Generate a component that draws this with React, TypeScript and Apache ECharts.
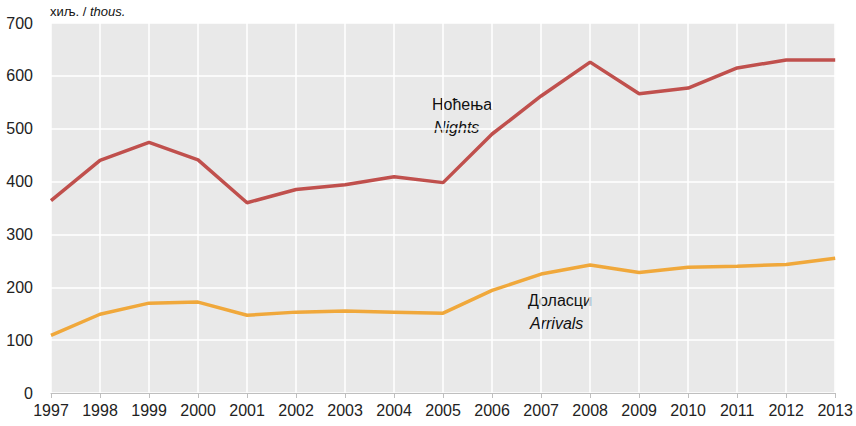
import React, { useEffect, useRef } from "react";
import * as echarts from "echarts";

const years = ["1997","1998","1999","2000","2001","2002","2003","2004","2005","2006","2007","2008","2009","2010","2011","2012","2013"];
const nights = [364, 440, 474, 441, 360, 385, 394, 409, 398, 490, 562, 626, 566, 577, 615, 630, 630];
const arrivals = [109, 149, 170, 172, 147, 153, 155, 153, 151, 194, 225, 242, 228, 238, 240, 243, 255];

const FONT = "'Liberation Sans Narrow', 'Arial Narrow', 'Liberation Sans', sans-serif";

export default function App() {
  const ref = useRef<HTMLDivElement>(null);
  useEffect(() => {
    const chart = echarts.init(ref.current!, null, { renderer: "svg" });
    chart.setOption({
      animation: false,
      backgroundColor: "#ffffff",
      grid: { left: 51, right: 18, top: 23, bottom: 33, backgroundColor: "#e9e9e9", show: true, borderWidth: 0 },
      xAxis: {
        type: "category",
        data: years,
        boundaryGap: false,
        axisLine: { show: true, lineStyle: { color: "#bfbfbf", width: 1 } },
        axisTick: { show: true, length: 5, lineStyle: { color: "#bfbfbf" } },
        axisLabel: { color: "#222", fontFamily: FONT, fontSize: 16, margin: 9, interval: 0 },
        splitLine: { show: true, lineStyle: { color: "#ffffff", width: 1.5 } },
      },
      yAxis: {
        type: "value",
        min: 0,
        max: 700,
        interval: 100,
        axisLine: { show: false },
        axisTick: { show: false },
        axisLabel: { color: "#222", fontFamily: FONT, fontSize: 16, margin: 18 },
        splitLine: { show: true, lineStyle: { color: "#ffffff", width: 1.5 } },
      },
      series: [
        { name: "Ноћења", type: "line", data: nights, symbol: "none", lineStyle: { color: "#c0504d", width: 3.5 }, z: 3 },
        { name: "Доласци", type: "line", data: arrivals, symbol: "none", lineStyle: { color: "#f0a83b", width: 3.5 }, z: 3 },
      ],
      graphic: [
        { type: "text", left: 50, top: 5, style: { rich: { a: { fontFamily: FONT, fontSize: 13, fill: "#111" }, b: { fontFamily: FONT, fontSize: 13, fontStyle: "italic", fill: "#111" } }, text: "{a|хиљ. / }{b|thous.}" } },
        { type: "text", left: 432, top: 96, style: { text: "Ноћења", fontFamily: FONT, fontSize: 16, fill: "#111" } },
        { type: "text", left: 434, top: 119, style: { text: "Nights", fontFamily: FONT, fontSize: 16, fontStyle: "italic", fill: "#111" } },
        { type: "text", left: 528, top: 292, style: { text: "Доласци", fontFamily: FONT, fontSize: 16, fill: "#111" } },
        { type: "text", left: 530, top: 315, style: { text: "Arrivals", fontFamily: FONT, fontSize: 16, fontStyle: "italic", fill: "#111" } },
      ],
    });
    return () => chart.dispose();
  }, []);
  return <div ref={ref} style={{ width: 856, height: 426, position: "absolute", left: 0, top: 0 }} />;
}
